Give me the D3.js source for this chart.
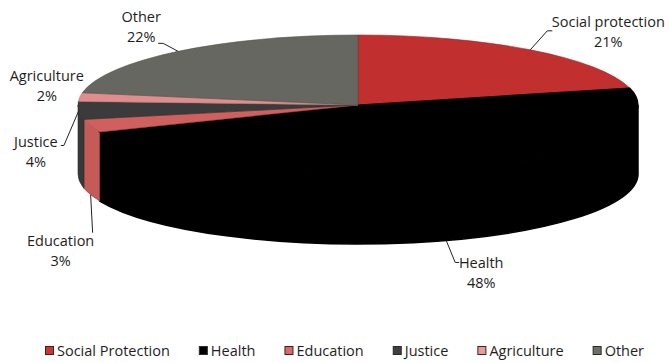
<!DOCTYPE html>
<html>
<head>
<meta charset="utf-8">
<script src="https://cdn.jsdelivr.net/npm/d3@7"></script>
<style>
  body { margin: 0; background: #fff; }
  svg text { font-family: "Open Sans", "Noto Sans", sans-serif; fill: #1e1e1e; }
</style>
</head>
<body>
<div id="chart"></div>
<script>
// data
const categories = ["Social protection", "Health", "Education", "Justice", "Agriculture", "Other"];
const legendNames = ["Social Protection", "Health", "Education", "Justice", "Agriculture", "Other"];
const shares = [21.1, 47.6, 3.0, 4.1, 2.0, 22.2];
const colors = ["#c1302f", "#000000", "#d0605e", "#3b3b3b", "#df8e8d", "#676762"];

const width = 670, height = 363;
const cx = 358, cy = 105, rx = 280, ry = 70, depth = 69;

// label placement relative to the slice anchor (dx, dy of first baseline), leader points
const labelLayout = [
    {dx: 78, dy: -23, side: "top", leader: [[17, -19], [22, -19]]},
    {dx: 35, dy: 28, side: "bottom", leader: [[9, 22], [13, 22]]},
    {dx: -30, dy: 51, side: "bottom", leader: [[2, 38]]},
    {dx: -43, dy: 37, side: "top", leader: [[-15, 35], [-18, 35]]},
    {dx: -33, dy: -16, side: "top", leader: null},
    {dx: -37, dy: -29, side: "top", leader: [[-15, -8], [-20, -8]]}
];

const svg = d3.select("#chart").append("svg")
    .attr("width", width)
    .attr("height", height);

const pie = d3.pie().sort(null).value(d => d.value);
const arcs = pie(categories.map((c, i) => ({name: c, value: shares[i], i: i})));
const total = d3.sum(shares);

const pt = (a, dy = 0) => [cx + rx * Math.sin(a), cy - ry * Math.cos(a) + dy];

function topPath(a0, a1) {
    const p0 = pt(a0), p1 = pt(a1);
    const large = (a1 - a0) > Math.PI ? 1 : 0;
    return `M${cx},${cy}L${p0}A${rx},${ry} 0 ${large} 1 ${p1}Z`;
}

function wallPath(a0, a1) {
    const p0 = pt(a0), p1 = pt(a1);
    const q0 = pt(a0, depth), q1 = pt(a1, depth);
    const large = (a1 - a0) > Math.PI ? 1 : 0;
    return `M${p0}A${rx},${ry} 0 ${large} 1 ${p1}L${q1}A${rx},${ry} 0 ${large} 0 ${q0}Z`;
}

const isBlack = i => colors[i] == "#000000";

// outer walls, only the front half (90deg..270deg) is seen
const walls = svg.append("g");
arcs.forEach(d => {
    const a0 = Math.max(d.startAngle, Math.PI / 2);
    const a1 = Math.min(d.endAngle, 3 * Math.PI / 2);
    if (a1 <= a0) return;
    const c = d3.color(colors[d.data.i]);
    walls.append("path")
        .attr("d", wallPath(a0, a1))
        .attr("fill", isBlack(d.data.i) ? "#000" : c.darker(0.15))
        .attr("stroke", isBlack(d.data.i) ? "#000" : c.darker(0.8))
        .attr("stroke-width", isBlack(d.data.i) ? 1.5 : 0.6);
});

// top faces
svg.append("g")
    .selectAll("path")
    .data(arcs)
    .join("path")
    .attr("d", d => topPath(d.startAngle, d.endAngle))
    .attr("fill", d => colors[d.data.i])
    .attr("stroke", d => d3.color(colors[d.data.i]).darker(0.7))
    .attr("stroke-width", d => isBlack(d.data.i) ? 1.2 : 0.6);

// labels with leader lines
const labels = svg.append("g");
arcs.forEach(d => {
    const lay = labelLayout[d.data.i];
    const mid = (d.startAngle + d.endAngle) / 2;
    const anchor = pt(mid, lay.side == "bottom" ? depth : 0);
    if (lay.leader) {
        const pts = [anchor].concat(lay.leader.map(o => [anchor[0] + o[0], anchor[1] + o[1]]));
        labels.append("path")
            .attr("d", d3.line()(pts))
            .attr("fill", "none")
            .attr("stroke", "#222")
            .attr("stroke-width", 1);
    }
    const t = labels.append("text")
        .attr("text-anchor", "middle")
        .attr("font-size", 14.5)
        .attr("x", anchor[0] + lay.dx)
        .attr("y", anchor[1] + lay.dy);
    t.append("tspan").text(d.data.name);
    t.append("tspan")
        .attr("x", anchor[0] + lay.dx)
        .attr("dy", 20)
        .text(Math.round(d.data.value / total * 100) + "%");
});

// legend
const legend = svg.append("g");
let lx = 45;
legendNames.forEach((name, i) => {
    legend.append("rect")
        .attr("x", lx + 0.5)
        .attr("y", 346.5)
        .attr("width", 8)
        .attr("height", 8)
        .attr("fill", isBlack(i) ? "#000" : d3.color(colors[i]).brighter(0.2))
        .attr("stroke", "#2a2a2a")
        .attr("stroke-width", 1);
    const txt = legend.append("text")
        .attr("x", lx + 12)
        .attr("y", 356)
        .attr("font-size", 14.5)
        .text(name);
    lx += 12 + txt.node().getComputedTextLength() + 29;
});
</script>
</body>
</html>
